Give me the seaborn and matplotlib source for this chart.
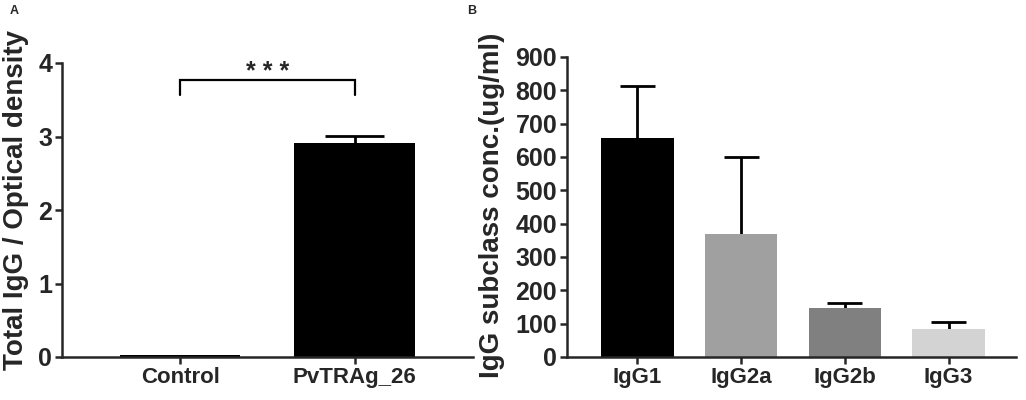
import matplotlib
matplotlib.use("Agg")
import matplotlib.pyplot as plt
import seaborn as sns
import pandas as pd

# Panel A: total IgG (optical density)
groups_a = ["Control", "PvTRAg_26"]
od_mean = [0.03, 2.91]
od_err = [0.0, 0.10]

# Panel B: IgG subclass concentration (ug/ml)
subclasses = ["IgG1", "IgG2a", "IgG2b", "IgG3"]
conc_mean = [656, 369, 146, 83]
conc_err = [158, 231, 15, 23]
sub_colors = ["#000000", "#a0a0a0", "#808080", "#d3d3d3"]

sns.set_style("ticks")
plt.rcParams["font.family"] = ["Liberation Sans", "DejaVu Sans"]
plt.rcParams["font.weight"] = "bold"


def upper_errorbars(ax, means, errs, half=0.17):
    # GraphPad style: only the upper whisker, stem hidden behind the bar
    xs = range(len(means))
    tops = [m + e for m, e in zip(means, errs)]
    ax.vlines(xs, means, tops, color="black", lw=2.0, zorder=0.5)
    for x, t, e in zip(xs, tops, errs):
        if e > 0:
            ax.hlines(t, x - half, x + half, color="black", lw=2.0, zorder=3)


fig = plt.figure(figsize=(10.26, 4.0), dpi=100)
ax1 = fig.add_axes([0.0604, 0.1075, 0.4006, 0.735])
ax2 = fig.add_axes([0.5526, 0.1075, 0.4376, 0.75])

df_a = pd.DataFrame({"group": groups_a, "od": od_mean})
sns.barplot(data=df_a, x="group", y="od", color="black", width=0.69,
            errorbar=None, ax=ax1, linewidth=0)
upper_errorbars(ax1, od_mean, od_err)
ax1.set_ylim(0, 4)
ax1.set_xlim(-0.68, 1.68)
ax1.set_yticks([0, 1, 2, 3, 4])
ax1.set_xlabel("")
ax1.set_ylabel("Total IgG / Optical density", fontsize=20, fontweight="bold")
ax1.yaxis.set_label_coords(-0.08, 0.534)

# significance bracket
ax1.plot([0, 0, 1, 1], [3.56, 3.77, 3.77, 3.56], color="black", lw=1.6,
         solid_joinstyle="miter")
ax1.text(0.5, 3.78, "* * *", ha="center", va="baseline", fontsize=18,
         fontweight="bold")

df_b = pd.DataFrame({"sub": subclasses, "conc": conc_mean})
sns.barplot(data=df_b, x="sub", y="conc", hue="sub", palette=sub_colors,
            width=0.70, errorbar=None, ax=ax2, legend=False, linewidth=0)
upper_errorbars(ax2, conc_mean, conc_err)
ax2.set_ylim(0, 900)
ax2.set_xlim(-0.68, 3.65)
ax2.set_yticks(range(0, 901, 100))
ax2.set_xlabel("")
ax2.set_ylabel("IgG subclass conc.(ug/ml)", fontsize=20, fontweight="bold")
ax2.yaxis.set_label_coords(-0.138, 0.505)

for ax in (ax1, ax2):
    sns.despine(ax=ax)
    for s in ("left", "bottom"):
        ax.spines[s].set_linewidth(1.8)
    ax.tick_params(axis="both", width=1.8, length=5, pad=2)
    ax.tick_params(axis="x", labelsize=16)
    ax.tick_params(axis="y", labelsize=18)
    for lab in ax.get_xticklabels() + ax.get_yticklabels():
        lab.set_fontweight("bold")

fig.text(0.0098, 0.972, "A", fontsize=9, fontweight="bold", ha="left", va="center")
fig.text(0.455, 0.972, "B", fontsize=9, fontweight="bold", ha="left", va="center")

fig.savefig("out.png", dpi=100)
